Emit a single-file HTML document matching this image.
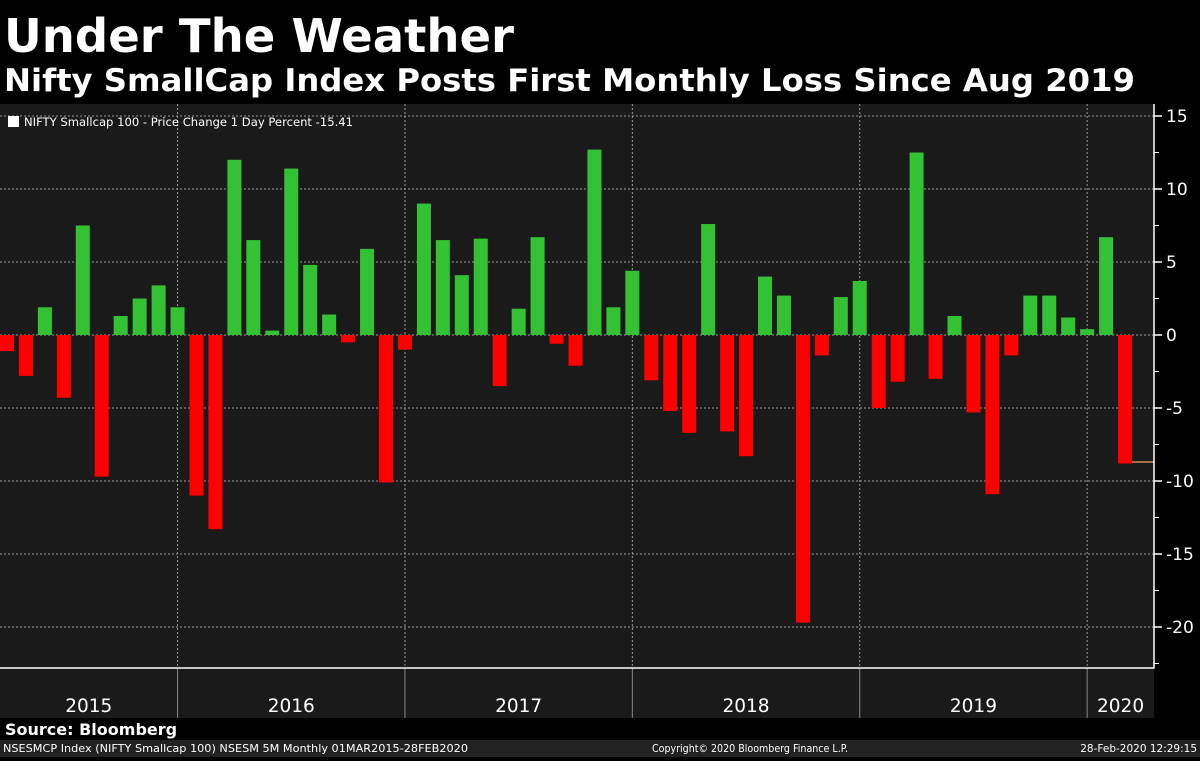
<!DOCTYPE html>
<html><head><meta charset="utf-8"><style>
body{margin:0;background:#000;width:1200px;height:757px;overflow:hidden;font-family:"DejaVu Sans","Liberation Sans",sans-serif;}
</style></head><body>
<svg width="1200" height="757" xmlns="http://www.w3.org/2000/svg">
<rect x="0" y="0" width="1200" height="757" fill="#000"/>
<text x="4" y="52" fill="#fff" font-family="DejaVu Sans, sans-serif" font-weight="bold" font-size="46" textLength="510" lengthAdjust="spacingAndGlyphs">Under The Weather</text>
<text x="4" y="91" fill="#fff" font-family="DejaVu Sans, sans-serif" font-weight="bold" font-size="31" textLength="1131" lengthAdjust="spacingAndGlyphs">Nifty SmallCap Index Posts First Monthly Loss Since Aug 2019</text>
<rect x="0" y="104" width="1154" height="564" fill="#1a1a1a"/>
<rect x="0" y="668" width="1154" height="50" fill="#1a1a1a"/>
<g id="grid"></g>
<g id="bars"></g>
<g id="axis"></g>
<rect x="8" y="116" width="11" height="11" fill="#fff"/>
<text x="24" y="126" fill="#fff" font-size="11.5" font-family="DejaVu Sans, sans-serif" textLength="329" lengthAdjust="spacingAndGlyphs">NIFTY Smallcap 100 - Price Change 1 Day Percent -15.41</text>
<text x="5" y="735" fill="#fff" font-weight="bold" font-size="16" font-family="DejaVu Sans, sans-serif">Source: Bloomberg</text>
<rect x="0" y="740" width="1200" height="17" fill="#222"/>
<text x="3" y="752" fill="#fff" font-size="10.5" font-family="DejaVu Sans, sans-serif" textLength="465" lengthAdjust="spacingAndGlyphs">NSESMCP Index (NIFTY Smallcap 100) NSESM 5M  Monthly 01MAR2015-28FEB2020</text>
<text x="652" y="752" fill="#fff" font-size="10.5" font-family="DejaVu Sans, sans-serif" textLength="196" lengthAdjust="spacingAndGlyphs">Copyright© 2020 Bloomberg Finance L.P.</text>
<text x="1197" y="752" text-anchor="end" fill="#fff" font-size="10.5" font-family="DejaVu Sans, sans-serif">28-Feb-2020 12:29:15</text>
</svg>
<script>
const values = [-1.1,-2.8,1.9,-4.3,7.5,-9.7,1.3,2.5,3.4,1.9,
-11.0,-13.3,12.0,6.5,0.3,11.4,4.8,1.4,-0.5,5.9,-10.1,-1.0,
9.0,6.5,4.1,6.6,-3.5,1.8,6.7,-0.6,-2.1,12.7,1.9,4.4,
-3.1,-5.2,-6.7,7.6,-6.6,-8.3,4.0,2.7,-19.7,-1.4,2.6,3.7,
-5.0,-3.2,12.5,-3.0,1.3,-5.3,-10.9,-1.4,2.7,2.7,1.2,0.4,
6.7,-8.8];
const yTicks = [15,10,5,0,-5,-10,-15,-20];
const years = ["2015","2016","2017","2018","2019","2020"];
const lastValue = -8.7;
const NS="http://www.w3.org/2000/svg";
const step=18.95, bw=14, x0=0, PR=1154;
function xs(i){return x0+i*step;}
function ys(v){return 335-v*14.6;}
function mk(t,a,p){const e=document.createElementNS(NS,t);for(const k in a)e.setAttribute(k,a[k]);p.appendChild(e);return e;}
const grid=document.getElementById('grid'),bars=document.getElementById('bars'),axis=document.getElementById('axis');
yTicks.forEach(v=>{
  const l=mk('line',{x1:0,x2:PR,y1:ys(v),y2:ys(v),stroke:'#9a9a9a','stroke-width':1,'stroke-dasharray':'2,2'},grid);
  
  
  const tk=mk('line',{x1:PR,x2:PR+8,y1:ys(v),y2:ys(v),stroke:'#fff','stroke-width':1.5},axis);
  
  
  const t=mk('text',{x:PR+12,y:ys(v)+6,fill:'#fff','font-size':'17','font-family':'DejaVu Sans, sans-serif'},axis);
  t.textContent=v;
  
  
  const mn=mk('line',{x1:PR,x2:PR+5,y1:ys(v-2.5),y2:ys(v-2.5),stroke:'#fff','stroke-width':1},axis);
  
  
});
const sepIdx=[9,21,33,45,57];
sepIdx.forEach(i=>{
  const x=xs(i)+bw/2;
  const l=mk('line',{x1:x,x2:x,y1:104,y2:668,stroke:'#9a9a9a','stroke-width':1,'stroke-dasharray':'2,2'},grid);
  
  
  const s=mk('line',{x1:x,x2:x,y1:668,y2:718,stroke:'#888','stroke-width':1},axis);
  
  
});
const bounds=[-1].concat(sepIdx).concat([values.length-1]);
years.forEach((y,k)=>{
  const a=k===0?0:xs(bounds[k])+bw/2, b=k===years.length-1?PR:xs(bounds[k+1])+bw/2;
  const t=mk('text',{x:(a+b)/2,y:712,fill:'#fff','font-size':'18.5','text-anchor':'middle','font-family':'DejaVu Sans, sans-serif'},axis);
  t.textContent=y;
  
  
});
values.forEach((v,i)=>{
  const y=v>=0?ys(v):ys(0), h=Math.abs(ys(v)-ys(0));
  const r=mk('rect',{x:xs(i),y:y,width:bw,height:Math.max(h,1),fill:v>=0?'#33c233':'#ff0000'},bars);
  
  
});
const ll=mk('line',{x1:xs(values.length-1)+bw,x2:PR,y1:ys(lastValue),y2:ys(lastValue),stroke:'#d08a5a','stroke-width':1.5},bars);


const ax=mk('path',{d:`M${PR},104 V668 H0`,stroke:'#fff','stroke-width':1.5,fill:'none'},axis);


</script>
</body></html>
